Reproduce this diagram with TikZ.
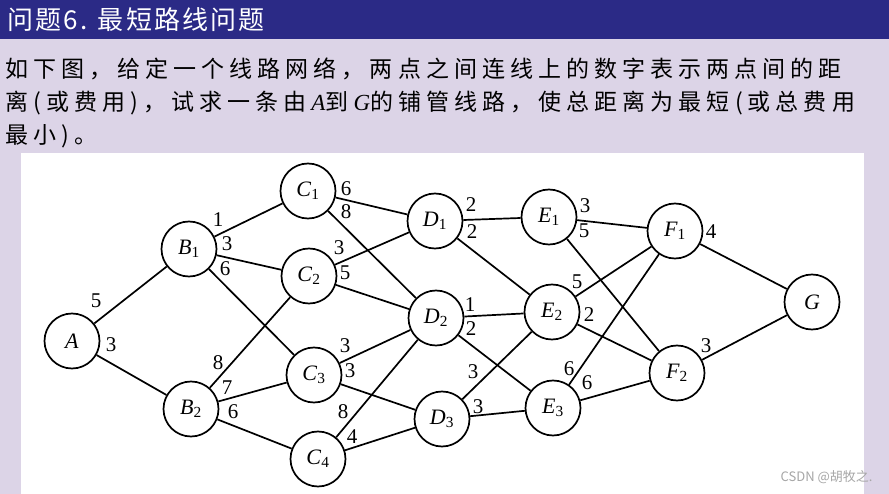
\documentclass[tikz,border=0pt]{standalone}
\usepackage{fontspec}
\setmainfont{Liberation Serif}
\newfontfamily\cjk[LetterSpace=22]{Noto Sans CJK SC}
\newfontfamily\cjktitle[LetterSpace=8]{Noto Sans CJK SC}
\newfontfamily\wmfont{Noto Sans CJK SC}
\definecolor{titleblue}{HTML}{2B2A86}
\definecolor{lavender}{HTML}{DCD4E7}
\newcommand{\vname}[2]{\textit{#1}\textsubscript{#2}}

\begin{document}
\begin{tikzpicture}[x=1pt,y=-1pt,
    vtx/.style={draw,circle,line width=1.7pt,minimum size=55pt,inner sep=0pt,
        fill=white,font=\rmfamily\fontsize{22}{22}\selectfont},
    wt/.style={inner sep=0pt,font=\rmfamily\fontsize{21}{21}\selectfont},
    link/.style={line width=1.7pt}]
    % background, title bar and panel
    \fill[lavender] (0,0) rectangle (889,494);
    \fill[titleblue] (0,0) rectangle (889,39);
    \fill[white] (21,153) rectangle (864,494);
    \useasboundingbox (0,0) rectangle (889,494);
    \node[anchor=west,text=white,font=\cjktitle\fontsize{26}{26}\selectfont] (title) at (4,20) {问题6. 最短路线问题};
    \node[anchor=north west,align=left,inner sep=0pt,font=\cjk\fontsize{23}{33}\selectfont] (task) at (5,58)
        {如下图，给定一个线路网络，两点之间连线上的数字表示两点间的距\\
         离(或费用)，试求一条由\textit{\rmfamily A}到\textit{\rmfamily G}的铺管线路，使总距离为最短(或总费用\\
         最小)。};
    % vertices
    \foreach \n/\x/\y/\t in {A/72/341/\textit{A}, B1/189/249/\vname{B}{1}, B2/191/409/\vname{B}{2},
        C1/308/191/\vname{C}{1}, C2/309/276/\vname{C}{2}, C3/314/375/\vname{C}{3}, C4/318/459/\vname{C}{4},
        D1/435/221/\vname{D}{1}, D2/436/318/\vname{D}{2}, D3/442/419/\vname{D}{3},
        E1/549/217/\vname{E}{1}, E2/552/312/\vname{E}{2}, E3/553/408/\vname{E}{3},
        F1/675/231/\vname{F}{1}, F2/677/373/\vname{F}{2}, G/812/302/\textit{G}}
        \node[vtx] (\n) at (\x,\y) {\t};
    % connections
    \foreach \a/\b in {A/B1, A/B2, B1/C1, B1/C2, B1/C3, B2/C2, B2/C3, B2/C4,
        C1/D1, C1/D2, C2/D1, C2/D2, C3/D2, C3/D3, C4/D2, C4/D3,
        D1/E1, D1/E2, D2/E2, D2/E3, D3/E2, D3/E3,
        E1/F1, E1/F2, E2/F1, E2/F2, E3/F1, E3/F2, F1/G, F2/G}
        \draw[link] (\a) -- (\b);
    % distances
    \foreach \x/\y/\w [count=\i] in {96/301/5, 111/345/3, 218/220/1, 227/244/3, 225/269/6,
        218/363/8, 227/388/7, 233/412/6, 346/189/6, 346/212/8, 339/248/3, 345/273/5,
        345/346/3, 350/371/3, 343/412/8, 352/437/4, 471/205/2, 472/232/2, 470/305/1,
        471/329/2, 473/372/3, 478/407/3, 585/206/3, 584/231/5, 577/282/5, 589/315/2,
        569/369/6, 587/383/6, 711/232/4, 706/346/3}
        \node[wt] (w\i) at (\x,\y) {\w};
    \node[anchor=east,text=gray!70,font=\wmfont\fontsize{13}{13}\selectfont] (mark) at (876,477) {CSDN @胡牧之.};
\end{tikzpicture}
\end{document}
